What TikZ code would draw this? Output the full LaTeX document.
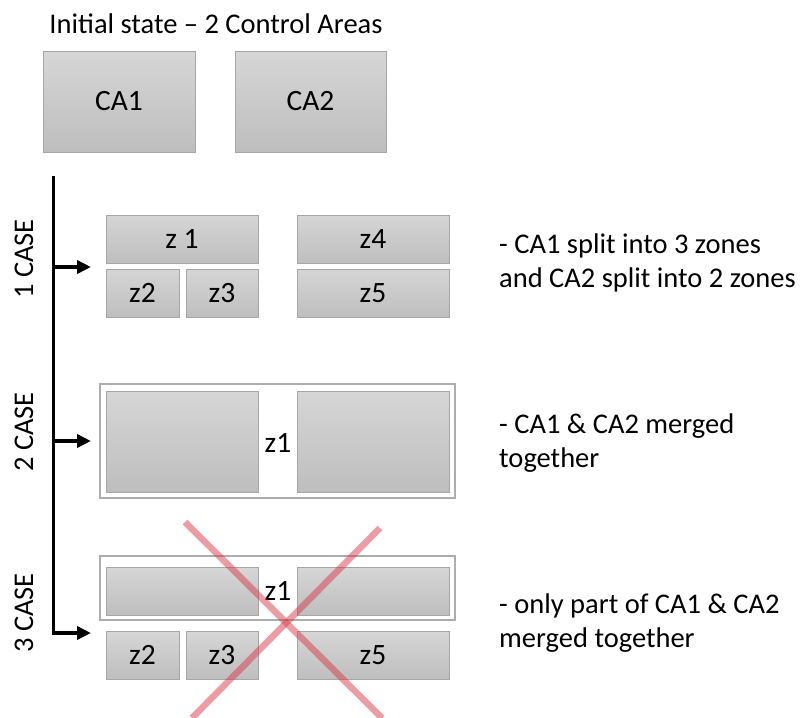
\documentclass[tikz,border=0pt]{standalone}
\usepackage{fontspec}
\setmainfont{Carlito}
\usetikzlibrary{arrows.meta}
\definecolor{boxtop}{HTML}{D6D6D6}
\definecolor{boxbot}{HTML}{BEBEBE}
\definecolor{boxborder}{HTML}{A6A6A6}
\definecolor{outerborder}{HTML}{ADADAD}
\definecolor{crossred}{RGB}{215,60,72}
\begin{document}
\begin{tikzpicture}[x=1pt,y=-1pt,
  box/.style={draw=boxborder, line width=0.8pt, top color=boxtop, bottom color=boxbot, inner sep=0pt, font=\fontsize{29.5}{34}\selectfont},
  outerbox/.style={draw=outerborder, line width=2pt, fill=white, inner sep=0pt},
  txt/.style={font=\fontsize{28.5}{34}\selectfont, inner sep=0pt},
  ztxt/.style={font=\fontsize{29.5}{34}\selectfont, inner sep=0pt},
  rtxt/.style={txt, anchor=west, align=left},
  timeline/.style={line width=3.5pt},
  tarrow/.style={line width=3.5pt, -{Triangle[length=14pt,width=13pt]}},
  cross/.style={draw=crossred, line width=6.5pt, opacity=0.5}
]
\useasboundingbox (0,0) rectangle (804,718);

% title and initial areas
\node[txt] (title) at (216,24) {Initial state -- 2 Control Areas};
\node[box, minimum width=152, minimum height=101] (ca1) at (119,101.5) {CA1};
\node[box, minimum width=151, minimum height=101] (ca2) at (310.5,101.5) {CA2};

% timeline
\coordinate (ttop) at (53.5,176);
\coordinate (tcorner) at (53.5,633);
\coordinate (a1s) at (53.5,267);
\coordinate (a1e) at (91,267);
\coordinate (a2s) at (53.5,441);
\coordinate (a2e) at (91,441);
\coordinate (a3s) at (52,633);
\coordinate (a3e) at (91,633);
\draw[timeline] (ttop) -- (tcorner);
\draw[tarrow] (a1s) -- (a1e);
\draw[tarrow] (a2s) -- (a2e);
\draw[tarrow] (a3s) -- (a3e);

\node[txt, rotate=90] (case1) at (24,259) {1 CASE};
\node[txt, rotate=90] (case2) at (24,432) {2 CASE};
\node[txt, rotate=90] (case3) at (24,613) {3 CASE};

% case 1
\node[box, minimum width=152, minimum height=48] (c1z1) at (182,239) {z 1};
\node[box, minimum width=73, minimum height=48] (c1z2) at (142.5,293) {z2};
\node[box, minimum width=72, minimum height=48] (c1z3) at (222,293) {z3};
\node[box, minimum width=152, minimum height=48] (c1z4) at (373,239) {z4};
\node[box, minimum width=152, minimum height=48] (c1z5) at (373,293) {z5};

% case 2
\node[outerbox, minimum width=355, minimum height=114] (c2out) at (277.5,441) {};
\node[box, minimum width=152, minimum height=101] (c2l) at (182,441.5) {};
\node[box, minimum width=152, minimum height=101] (c2r) at (373,441.5) {};
\node[ztxt] (c2z1) at (278,443) {z1};

% case 3
\node[outerbox, minimum width=355, minimum height=64] (c3out) at (277.5,588) {};
\node[box, minimum width=152, minimum height=48] (c3l) at (182,591) {};
\node[box, minimum width=152, minimum height=48] (c3r) at (373,591) {};
\node[ztxt] (c3z1) at (278,591) {z1};
\node[box, minimum width=73, minimum height=48] (c3z2) at (142.5,655) {z2};
\node[box, minimum width=72, minimum height=48] (c3z3) at (222,655) {z3};
\node[box, minimum width=152, minimum height=48] (c3z5) at (373,655) {z5};

% red cross
\coordinate (x1a) at (185,522);
\coordinate (x1b) at (382,718);
\coordinate (x2a) at (380,528);
\coordinate (x2b) at (192,718);
\draw[cross] (x1a) -- (x1b);
\draw[cross] (x2a) -- (x2b);

% descriptions
\node[rtxt] (d1) at (499,263) {- CA1 split into 3 zones\\and CA2 split into 2 zones};
\node[rtxt] (d2) at (499,443) {- CA1 \& CA2 merged\\together};
\node[rtxt] (d3) at (499,623) {- only part of CA1 \& CA2\\merged together};
\end{tikzpicture}
\end{document}
